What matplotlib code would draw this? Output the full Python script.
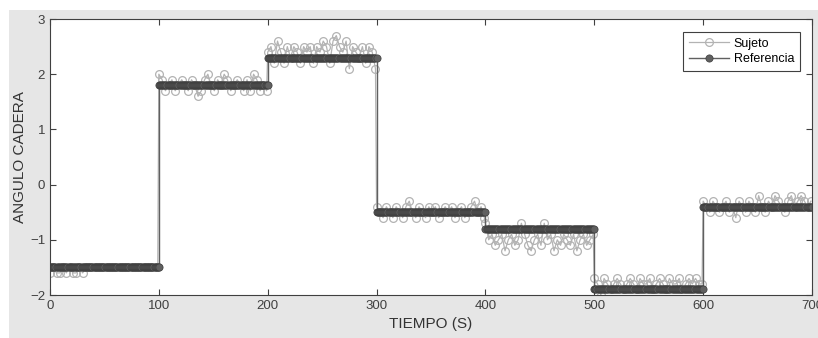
import numpy as np
import matplotlib.pyplot as plt
from matplotlib.patches import Rectangle

# niveles de referencia por tramo de 100 s
niveles = [-1.5, 1.8, 2.3, -0.5, -0.8, -1.9, -0.4]
inicio_tramos = [0, 100, 200, 300, 400, 500, 600]

# valores del sujeto (cada 3 s dentro de cada tramo)
sujeto_t1 = [-1.6, -1.5, -1.6, -1.6, -1.5, -1.6, -1.5, -1.6, -1.6, -1.5, -1.6, -1.5,
             -1.5, -1.5, -1.5, -1.5, -1.5, -1.5, -1.5, -1.5, -1.5, -1.5, -1.5, -1.5,
             -1.5, -1.5, -1.5, -1.5, -1.5, -1.5, -1.5, -1.5, -1.5, -1.5]
sujeto_t2 = [2.0, 1.9, 1.7, 1.8, 1.9, 1.7, 1.8, 1.9, 1.8, 1.7, 1.9, 1.8,
             1.6, 1.7, 1.9, 2.0, 1.8, 1.7, 1.9, 1.8, 2.0, 1.9, 1.7, 1.8,
             1.9, 1.8, 1.7, 1.9, 1.7, 2.0, 1.9, 1.7, 1.8, 1.7]
sujeto_t3 = [2.4, 2.5, 2.2, 2.6, 2.4, 2.2, 2.5, 2.3, 2.5, 2.4, 2.2, 2.5,
             2.4, 2.5, 2.2, 2.5, 2.4, 2.6, 2.5, 2.2, 2.6, 2.7, 2.5, 2.4,
             2.6, 2.1, 2.5, 2.4, 2.3, 2.5, 2.2, 2.5, 2.4, 2.1]
sujeto_t4 = [-0.4, -0.5, -0.6, -0.4, -0.5, -0.6, -0.4, -0.5, -0.6, -0.4, -0.3, -0.5,
             -0.6, -0.4, -0.5, -0.6, -0.4, -0.5, -0.4, -0.6, -0.5, -0.4, -0.5, -0.4,
             -0.6, -0.5, -0.4, -0.6, -0.5, -0.4, -0.3, -0.5, -0.4, -0.6]
sujeto_t5 = [-0.7, -1.0, -0.9, -1.1, -1.0, -0.9, -1.2, -1.0, -0.9, -1.1, -1.0, -0.7,
             -0.9, -1.1, -1.2, -1.0, -0.9, -1.1, -0.7, -1.0, -0.9, -1.2, -1.0, -1.1,
             -0.9, -1.0, -1.1, -0.9, -1.2, -1.0, -0.9, -1.1, -1.0, -0.9]
sujeto_t6 = [-1.7, -1.8, -2.0, -1.7, -1.8, -1.9, -1.8, -1.7, -1.8, -1.9, -1.8, -1.7,
             -1.8, -1.9, -1.7, -1.8, -1.8, -1.7, -1.9, -1.8, -1.7, -1.8, -1.9, -1.7,
             -1.8, -1.8, -1.7, -1.9, -1.8, -1.7, -1.8, -1.7, -1.8, -1.8]
sujeto_t7 = [-0.3, -0.4, -0.5, -0.3, -0.4, -0.5, -0.4, -0.3, -0.5, -0.4, -0.6, -0.3,
             -0.4, -0.5, -0.3, -0.4, -0.5, -0.2, -0.4, -0.5, -0.3, -0.4, -0.2, -0.3,
             -0.4, -0.5, -0.3, -0.2, -0.4, -0.3, -0.2, -0.3, -0.4, -0.3]
sujeto = [sujeto_t1, sujeto_t2, sujeto_t3, sujeto_t4, sujeto_t5, sujeto_t6, sujeto_t7]

xticks = [0, 100, 200, 300, 400, 500, 600, 700]
yticks = [-2, -1, 0, 1, 2, 3]

# armar series
ts, ys = [], []
tr, yr = [], []
for i, t0 in enumerate(inicio_tramos):
    t = t0 + np.arange(len(sujeto[i])) * 3
    ts.extend(t)
    ys.extend(sujeto[i])
    tt = t0 + np.arange(0, 101, 1)
    tr.extend(tt)
    yr.extend([niveles[i]] * len(tt))

plt.rcParams['font.family'] = ['Liberation Sans', 'DejaVu Sans']
fig = plt.figure(figsize=(8.18, 3.38), dpi=100)
fig.patch.set_facecolor('white')
fig.patches.append(Rectangle((9 / 818, 0), 1, (338 - 10) / 338, transform=fig.transFigure,
                             facecolor='#e6e6e6', edgecolor='none', zorder=-10))
ax = fig.add_axes([50 / 818, 43 / 338, 762 / 818, 276 / 338])
ax.set_facecolor('white')

ax.plot(ts, ys, '-o', color='#b3b3b3', markerfacecolor='none', markeredgecolor='#b3b3b3',
        markersize=5.6, markeredgewidth=0.9, linewidth=0.9, label='Sujeto')
ax.plot(tr, yr, '-o', color='#606060', markerfacecolor='#606060', markeredgecolor='#3c3c3c',
        markersize=5.2, markeredgewidth=0.5, linewidth=1.0, label='Referencia')

ax.set_xlim(0, 700)
ax.set_ylim(-2, 3)
ax.set_xticks(xticks)
ax.set_yticks(yticks)
ax.tick_params(direction='in', top=True, right=True, length=4, width=0.8,
               colors='#404040', labelsize=9.5, labelcolor='#404040')
for s in ax.spines.values():
    s.set_color('#404040')
    s.set_linewidth(0.8)
ax.set_xlabel('TIEMPO (S)', fontsize=11, color='#333333', labelpad=4)
ax.set_ylabel('ANGULO CADERA', fontsize=11, color='#333333', labelpad=2)

leg = ax.legend(loc='upper right', bbox_to_anchor=(0.984, 0.953), fancybox=False,
                framealpha=1, edgecolor='#404040', fontsize=9, handlelength=3.2,
                borderpad=0.45, labelspacing=0.3, handletextpad=0.4, borderaxespad=0)
leg.get_frame().set_linewidth(0.8)

fig.savefig('out.png', dpi=100)
